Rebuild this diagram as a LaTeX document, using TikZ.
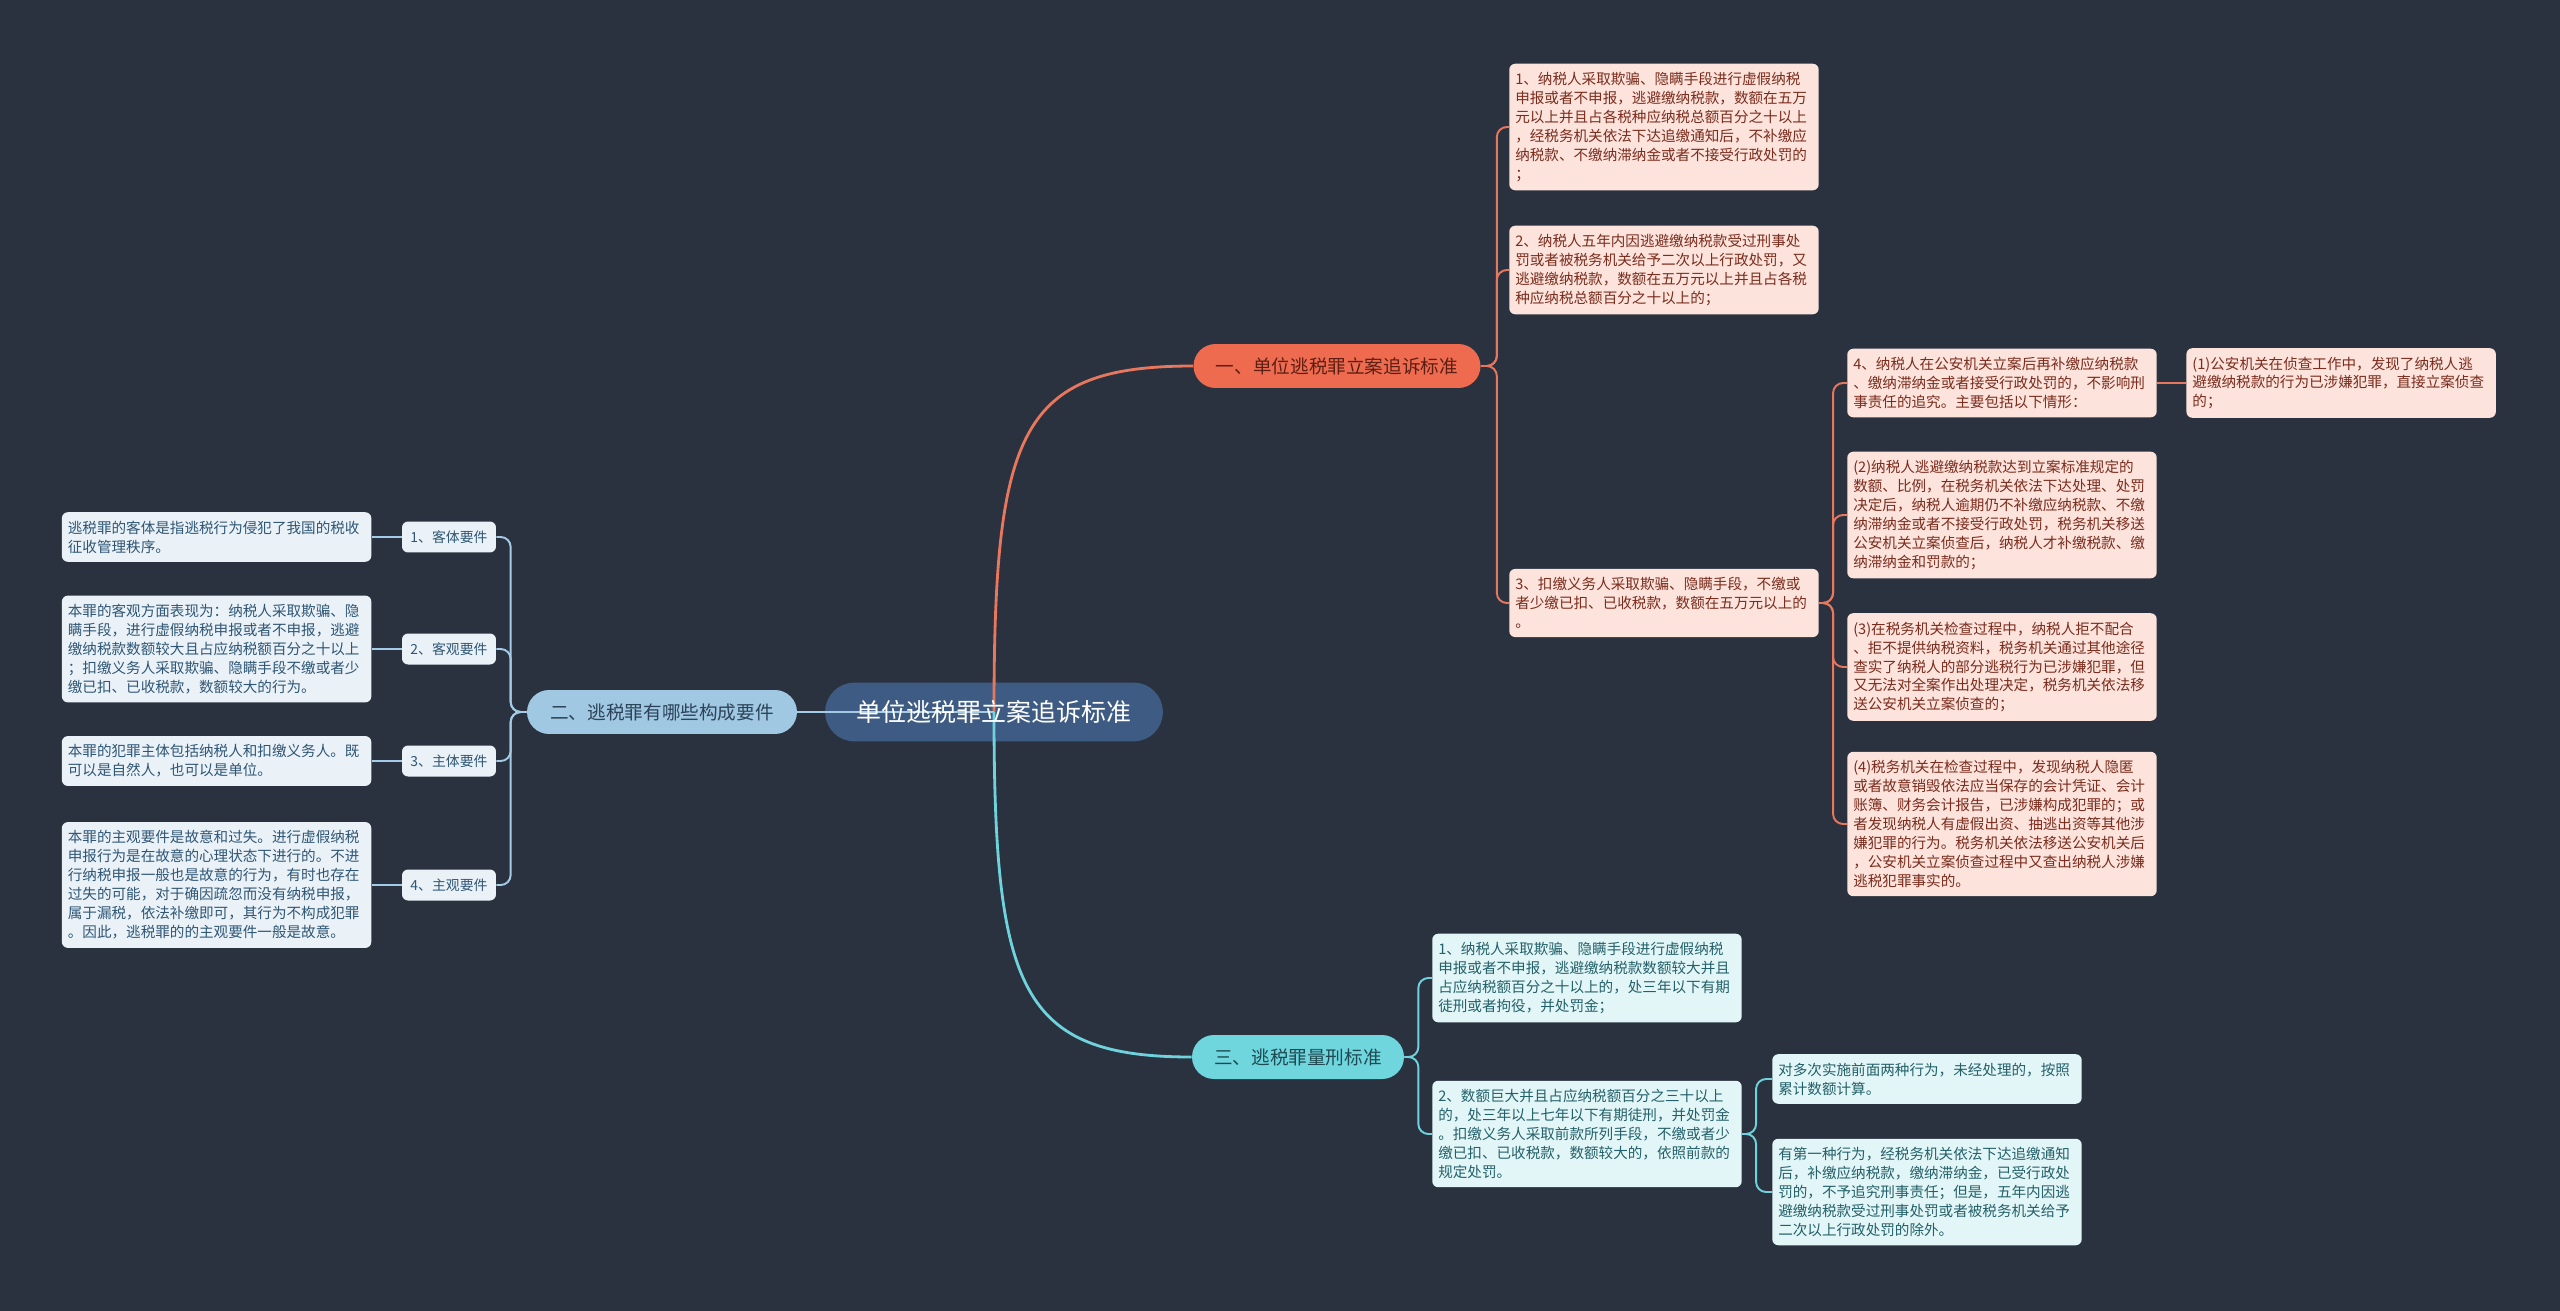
\documentclass[tikz,border=0pt]{standalone}
\usepackage{fontspec}
\usepackage{tikz}
\usetikzlibrary{positioning,calc}
\newfontfamily\cjk{Noto Sans CJK SC}
\definecolor{canvas}{HTML}{2A323F}
\definecolor{rootfill}{HTML}{3E5C83}
\definecolor{redfill}{HTML}{EE6B4F}
\definecolor{redink}{HTML}{5C1F14}
\definecolor{redsoft}{HTML}{FCE3DC}
\definecolor{redtext}{HTML}{7B2C1D}
\definecolor{redline}{HTML}{E9775D}
\definecolor{bluefill}{HTML}{A0C8E2}
\definecolor{blueink}{HTML}{2C4358}
\definecolor{bluesoft}{HTML}{EAF2F8}
\definecolor{bluetext}{HTML}{2F5675}
\definecolor{blueline}{HTML}{A5CCE6}
\definecolor{cyanfill}{HTML}{6FD6DE}
\definecolor{cyanink}{HTML}{1F4A52}
\definecolor{cyansoft}{HTML}{E2F6F7}
\definecolor{cyantext}{HTML}{246069}
\definecolor{cyanline}{HTML}{6FD3DD}
\pgfdeclarelayer{bg}
\pgfdeclarelayer{links}
\pgfsetlayers{bg,links,main}
\tikzset{
  rootbox/.style={rectangle,text=white,align=center,
    font=\cjk\fontsize{14.2}{17}\selectfont,
    minimum width=6.74cm,minimum height=1.16cm,inner sep=0pt},
  topicbox/.style={rectangle,rounded corners=0.44cm,align=center,
    font=\cjk\fontsize{10.6}{13}\selectfont,
    minimum height=0.88cm,inner sep=0pt},
  leafbox/.style={rectangle,rounded corners=0.12cm,align=left,
    font=\cjk\fontsize{8.3}{10.8}\selectfont,
    text width=5.95cm,inner xsep=0.12cm,inner ysep=0.17cm},
  tagbox/.style={rectangle,rounded corners=0.12cm,align=center,
    font=\cjk\fontsize{7.9}{9.5}\selectfont,fill=bluesoft,text=bluetext,
    minimum width=1.88cm,minimum height=0.62cm,inner sep=0pt},
  redleaf/.style={leafbox,fill=redsoft,text=redtext},
  blueleaf/.style={leafbox,fill=bluesoft,text=bluetext},
  cyanleaf/.style={leafbox,fill=cyansoft,text=cyantext},
  mainlink/.style={line width=1.6pt},
  sublink/.style={line width=1.1pt,rounded corners=0.2cm},
}
\begin{document}
\begin{tikzpicture}[x=0.02cm,y=-0.02cm]
  \useasboundingbox (0,0) rectangle (2560,1311);
  \begin{pgfonlayer}{bg}
    \fill[canvas] (0,0) rectangle (2560,1311);
  \end{pgfonlayer}

  \node[rootbox] (root) at (994,712) {单位逃税罪立案追诉标准};
  \node[topicbox,fill=redfill,text=redink,minimum width=5.74cm] (law) at (1337,366) {一、单位逃税罪立案追诉标准};
  \node[topicbox,fill=bluefill,text=blueink,minimum width=5.4cm] (parts) at (662,712) {二、逃税罪有哪些构成要件};
  \node[topicbox,fill=cyanfill,text=cyanink,minimum width=4.24cm] (term) at (1298,1057) {三、逃税罪量刑标准};

  \node[redleaf] (law1) at (1664,127) {1、纳税人采取欺骗、隐瞒手段进行虚假纳税\\申报或者不申报，逃避缴纳税款，数额在五万\\元以上并且占各税种应纳税总额百分之十以上\\，经税务机关依法下达追缴通知后，不补缴应\\纳税款、不缴纳滞纳金或者不接受行政处罚的\\；};
  \node[redleaf] (law2) at (1664,270) {2、纳税人五年内因逃避缴纳税款受过刑事处\\罚或者被税务机关给予二次以上行政处罚，又\\逃避缴纳税款，数额在五万元以上并且占各税\\种应纳税总额百分之十以上的；};
  \node[redleaf] (law3) at (1664,603) {3、扣缴义务人采取欺骗、隐瞒手段，不缴或\\者少缴已扣、已收税款，数额在五万元以上的\\。};
  \node[redleaf] (pay) at (2002,383) {4、纳税人在公安机关立案后再补缴应纳税款\\、缴纳滞纳金或者接受行政处罚的，不影响刑\\事责任的追究。主要包括以下情形：};
  \node[redleaf, right=0.58cm of pay] (case1) {(1)公安机关在侦查工作中，发现了纳税人逃\\避缴纳税款的行为已涉嫌犯罪，直接立案侦查\\的；};
  \node[redleaf] (case2) at (2002,515) {(2)纳税人逃避缴纳税款达到立案标准规定的\\数额、比例，在税务机关依法下达处理、处罚\\决定后，纳税人逾期仍不补缴应纳税款、不缴\\纳滞纳金或者不接受行政处罚，税务机关移送\\公安机关立案侦查后，纳税人才补缴税款、缴\\纳滞纳金和罚款的；};
  \node[redleaf] (case3) at (2002,667) {(3)在税务机关检查过程中，纳税人拒不配合\\、拒不提供纳税资料，税务机关通过其他途径\\查实了纳税人的部分逃税行为已涉嫌犯罪，但\\又无法对全案作出处理决定，税务机关依法移\\送公安机关立案侦查的；};
  \node[redleaf] (case4) at (2002,824) {(4)税务机关在检查过程中，发现纳税人隐匿\\或者故意销毁依法应当保存的会计凭证、会计\\账簿、财务会计报告，已涉嫌构成犯罪的；或\\者发现纳税人有虚假出资、抽逃出资等其他涉\\嫌犯罪的行为。税务机关依法移送公安机关后\\，公安机关立案侦查过程中又查出纳税人涉嫌\\逃税犯罪事实的。};

  \node[tagbox] (obj) at (449,537) {1、客体要件};
  \node[tagbox] (act) at (449,649) {2、客观要件};
  \node[tagbox] (who) at (449,761) {3、主体要件};
  \node[tagbox] (mind) at (449,885) {4、主观要件};
  \node[blueleaf, left=0.6cm of obj] (objtxt) {逃税罪的客体是指逃税行为侵犯了我国的税收\\征收管理秩序。};
  \node[blueleaf, left=0.6cm of act] (acttxt) {本罪的客观方面表现为：纳税人采取欺骗、隐\\瞒手段，进行虚假纳税申报或者不申报，逃避\\缴纳税款数额较大且占应纳税额百分之十以上\\；扣缴义务人采取欺骗、隐瞒手段不缴或者少\\缴已扣、已收税款，数额较大的行为。};
  \node[blueleaf, left=0.6cm of who] (whotxt) {本罪的犯罪主体包括纳税人和扣缴义务人。既\\可以是自然人，也可以是单位。};
  \node[blueleaf, left=0.6cm of mind] (mindtxt) {本罪的主观要件是故意和过失。进行虚假纳税\\申报行为是在故意的心理状态下进行的。不进\\行纳税申报一般也是故意的行为，有时也存在\\过失的可能，对于确因疏忽而没有纳税申报，\\属于漏税，依法补缴即可，其行为不构成犯罪\\。因此，逃税罪的的主观要件一般是故意。};

  \node[cyanleaf] (jail) at (1587,978) {1、纳税人采取欺骗、隐瞒手段进行虚假纳税\\申报或者不申报，逃避缴纳税款数额较大并且\\占应纳税额百分之十以上的，处三年以下有期\\徒刑或者拘役，并处罚金；};
  \node[cyanleaf] (heavy) at (1587,1134) {2、数额巨大并且占应纳税额百分之三十以上\\的，处三年以上七年以下有期徒刑，并处罚金\\。扣缴义务人采取前款所列手段，不缴或者少\\缴已扣、已收税款，数额较大的，依照前款的\\规定处罚。};
  \node[cyanleaf] (sum) at (1927,1079) {对多次实施前面两种行为，未经处理的，按照\\累计数额计算。};
  \node[cyanleaf] (spare) at (1927,1192) {有第一种行为，经税务机关依法下达追缴通知\\后，补缴应纳税款，缴纳滞纳金，已受行政处\\罚的，不予追究刑事责任；但是，五年内因逃\\避缴纳税款受过刑事处罚或者被税务机关给予\\二次以上行政处罚的除外。};

  \begin{pgfonlayer}{bg}
    \fill[rootfill,rounded corners=0.58cm] (root.south west) rectangle (root.north east);
  \end{pgfonlayer}

  \begin{pgfonlayer}{links}
    \draw[mainlink,redline] (root.center) .. controls (994,430) and (1020,366) .. (law.west);
    \draw[mainlink,blueline] (root.center) -- (parts.east);
    \draw[mainlink,cyanline] (root.center) .. controls (994,990) and (1020,1057) .. (term.west);
    \foreach \leaf in {law1,law2,law3}
      \draw[sublink,redline] (law.east) -- ++(16,0) |- (\leaf.west);
    \foreach \leaf in {pay,case2,case3,case4}
      \draw[sublink,redline] (law3.east) -- ++(14,0) |- (\leaf.west);
    \draw[sublink,redline] (pay.east) -- (case1.west);
    \foreach \leaf in {obj,act,who,mind}
      \draw[sublink,blueline] (parts.west) -- ++(-16,0) |- (\leaf.east);
    \draw[sublink,blueline] (obj.west) -- (objtxt.east);
    \draw[sublink,blueline] (act.west) -- (acttxt.east);
    \draw[sublink,blueline] (who.west) -- (whotxt.east);
    \draw[sublink,blueline] (mind.west) -- (mindtxt.east);
    \foreach \leaf in {jail,heavy}
      \draw[sublink,cyanline] (term.east) -- ++(14,0) |- (\leaf.west);
    \foreach \leaf in {sum,spare}
      \draw[sublink,cyanline] (heavy.east) -- ++(14,0) |- (\leaf.west);
  \end{pgfonlayer}
\end{tikzpicture}
\end{document}
